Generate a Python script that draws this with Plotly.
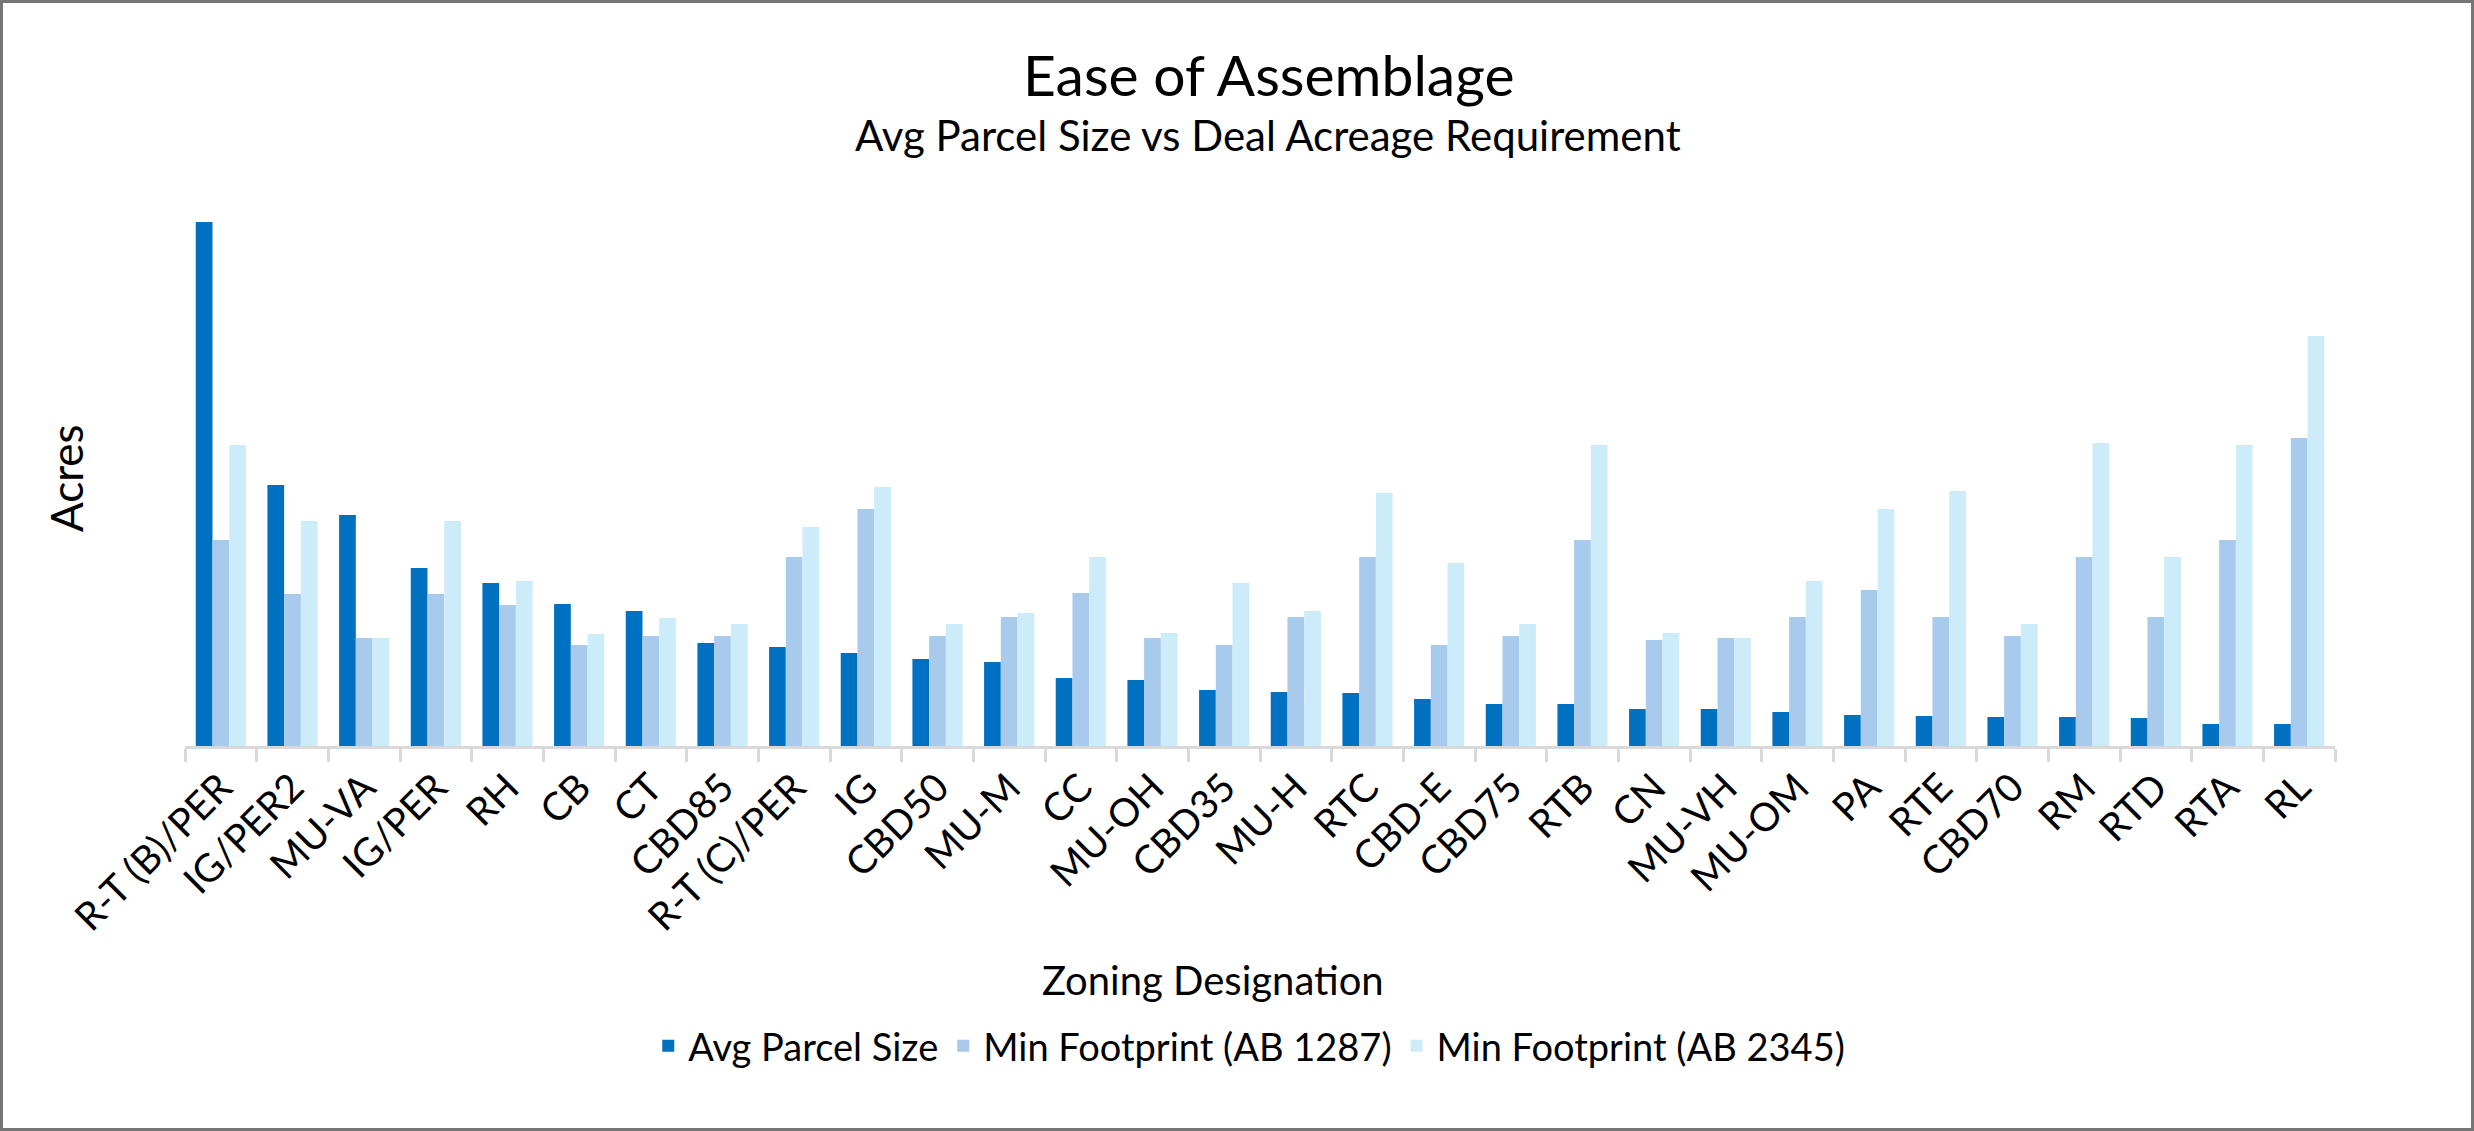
import plotly.graph_objects as go

categories = ["R-T (B)/PER", "IG/PER2", "MU-VA", "IG/PER", "RH", "CB", "CT", "CBD85",
              "R-T (C)/PER", "IG", "CBD50", "MU-M", "CC", "MU-OH", "CBD35", "MU-H",
              "RTC", "CBD-E", "CBD75", "RTB", "CN", "MU-VH", "MU-OM", "PA", "RTE",
              "CBD70", "RM", "RTD", "RTA", "RL"]

avg_parcel = [5.24, 2.61, 2.31, 1.78, 1.63, 1.42, 1.35, 1.03, 0.99, 0.93, 0.87, 0.84,
              0.68, 0.66, 0.56, 0.54, 0.53, 0.47, 0.42, 0.42, 0.37, 0.37, 0.34, 0.31,
              0.30, 0.29, 0.29, 0.28, 0.22, 0.22]

min_ab1287 = [2.06, 1.52, 1.08, 1.52, 1.41, 1.01, 1.10, 1.10, 1.89, 2.37, 1.10, 1.29,
              1.53, 1.08, 1.01, 1.29, 1.89, 1.01, 1.10, 2.06, 1.06, 1.08, 1.29, 1.56,
              1.29, 1.10, 1.89, 1.29, 2.06, 3.08]

min_ab2345 = [3.01, 2.25, 1.08, 2.25, 1.65, 1.12, 1.28, 1.22, 2.19, 2.59, 1.22, 1.33,
              1.89, 1.13, 1.63, 1.35, 2.53, 1.83, 1.22, 3.01, 1.13, 1.08, 1.65, 2.37,
              2.55, 1.22, 3.03, 1.89, 3.01, 4.10]

series_names = ["Avg Parcel Size", "Min Footprint (AB 1287)", "Min Footprint (AB 2345)"]
series_colors = ["#0070C0", "#A8CAEC", "#CCECFA"]

W, H = 2474, 1131
ML, MR, MT, MB = 185, 139, 200, 385
PW, PH = W - ML - MR, H - MT - MB

def px(x):
    return (x - ML) / PW

def py(y):
    return (H - MB - y) / PH

fig = go.Figure()
for name, vals, col in zip(series_names, [avg_parcel, min_ab1287, min_ab2345], series_colors):
    fig.add_trace(go.Bar(x=categories, y=vals, name=name, marker=dict(color=col, line=dict(width=0))))

font_main = "Lato, 'Noto Sans', sans-serif"

fig.update_layout(
    width=W, height=H,
    margin=dict(l=ML, r=MR, t=MT, b=MB, pad=0),
    paper_bgcolor="white", plot_bgcolor="white",
    barmode="group", bargap=0.3, bargroupgap=0,
    font=dict(family=font_main, color="#000000"),
    showlegend=True,
    legend=dict(orientation="h", x=0.495, xanchor="center", y=py(1046), yanchor="middle",
                font=dict(size=38, family=font_main), itemwidth=30, traceorder="normal"),
    xaxis=dict(showline=True, linecolor="#D9D9D9", linewidth=3,
               ticks="outside", tickson="boundaries", ticklen=13, tickwidth=3, tickcolor="#D9D9D9",
               tickangle=-45, tickfont=dict(size=39, family=font_main, color="#000000"),
               showgrid=False, zeroline=False),
    yaxis=dict(range=[0, 5.46], showticklabels=False, showgrid=False, zeroline=False,
               showline=False, ticks=""),
)

fig.add_annotation(text="Ease of Assemblage", xref="paper", yref="paper",
                   x=px(1268), y=py(74), xanchor="center", yanchor="middle",
                   showarrow=False, font=dict(size=57, family=font_main, color="#000000"))
fig.add_annotation(text="Avg Parcel Size vs Deal Acreage Requirement", xref="paper", yref="paper",
                   x=px(1268), y=py(135), xanchor="center", yanchor="middle",
                   showarrow=False, font=dict(size=42, family=font_main, color="#000000"))
fig.add_annotation(text="Zoning Designation", xref="paper", yref="paper",
                   x=px(1213), y=py(980), xanchor="center", yanchor="middle",
                   showarrow=False, font=dict(size=40, family=font_main, color="#000000"))
fig.add_annotation(text="Acres", xref="paper", yref="paper", textangle=-90,
                   x=px(66), y=py(478), xanchor="center", yanchor="middle",
                   showarrow=False, font=dict(size=44, family=font_main, color="#000000"))

# outer border
fig.add_shape(type="rect", xref="paper", yref="paper",
              x0=px(1.5), x1=px(W - 1.5), y0=py(H - 1.5), y1=py(1.5),
              line=dict(color="#767676", width=3), fillcolor="rgba(0,0,0,0)", layer="above")

fig.write_html("out.html", config={"displayModeBar": False},
               post_script="document.body.style.margin='0px';document.body.style.overflow='hidden';")
